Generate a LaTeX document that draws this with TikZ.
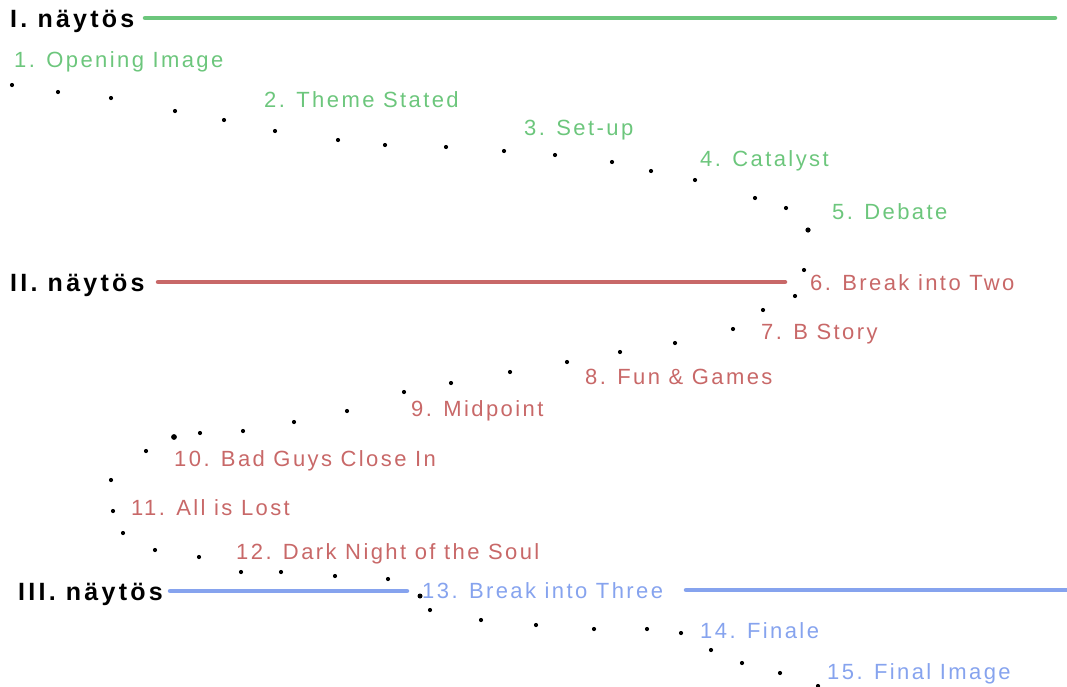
\documentclass[tikz,border=0pt]{standalone}
\usepackage{fontspec}
\newfontfamily\labfont[LetterSpace=11]{Liberation Sans}
\newfontfamily\hdrfont[LetterSpace=13]{Liberation Sans Bold}
\definecolor{actone}{RGB}{108,198,124}
\definecolor{acttwo}{RGB}{200,104,104}
\definecolor{actthree}{RGB}{134,163,238}
\tikzset{
  hdr/.style={anchor=base west, inner sep=0pt, font=\hdrfont\fontsize{25}{29}\selectfont, text=black},
  lab/.style={anchor=base west, inner sep=0pt, font=\labfont\fontsize{22}{26}\selectfont},
  actline/.style={line width=4.5pt, line cap=round},
  dot/.style={fill=black},
}
\begin{document}
\begin{tikzpicture}[x=1pt,y=-1pt]
\useasboundingbox (0,0) rectangle (1067,686);
% act headers
\node[hdr] (h1) at (10,27.5) {I. näytös};
\node[hdr] (h2) at (10,291) {II. näytös};
\node[hdr] (h3) at (18,600) {III. näytös};
% act lines
\coordinate (g1) at (145,18); \coordinate (g2) at (1055,18);
\coordinate (r1) at (158,282); \coordinate (r2) at (785,282);
\coordinate (b1) at (170,591); \coordinate (b2) at (407,591);
\coordinate (b3) at (686,590); \coordinate (b4) at (1067,590);
\draw[actline, draw=actone] (g1) -- (g2);
\draw[actline, draw=acttwo] (r1) -- (r2);
\draw[actline, draw=actthree] (b1) -- (b2);
\draw[actline, draw=actthree] (b3) -- (b4);
% beat labels
\node[lab, text=actone] (l1) at (14,67) {1. Opening Image};
\node[lab, text=actone] (l2) at (264,107) {2. Theme Stated};
\node[lab, text=actone] (l3) at (524,135) {3. Set-up};
\node[lab, text=actone] (l4) at (700,166) {4. Catalyst};
\node[lab, text=actone] (l5) at (832,219) {5. Debate};
\node[lab, text=acttwo] (l6) at (810,290) {6. Break into Two};
\node[lab, text=acttwo] (l7) at (761,339) {7. B Story};
\node[lab, text=acttwo] (l8) at (585,384) {8. Fun \& Games};
\node[lab, text=acttwo] (l9) at (411,416) {9. Midpoint};
\node[lab, text=acttwo] (l10) at (174,466) {10. Bad Guys Close In};
\node[lab, text=acttwo] (l11) at (131,515) {11. All is Lost};
\node[lab, text=acttwo] (l12) at (236,559) {12. Dark Night of the Soul};
\node[lab, text=actthree] (l13) at (422,598) {13. Break into Three};
\node[lab, text=actthree] (l14) at (700,638) {14. Finale};
\node[lab, text=actthree] (l15) at (827,679) {15. Final Image};
% dotted path
\foreach \p in {(12,85),(58,92),(111,98),(175,111),(224,120),(275,131),(338,140),(385,145),
  (446,147),(504,151),(555,155),(612,162),(651,171),(695,180),(755,198),(786,208),
  (804,270),(795,296),(763,310),(733,329),(675,343),(620,352),(567,362),(510,372),
  (451,383),(404,392),(347,411),(294,422),(243,431),(200,433),(146,451),(111,480),
  (113,511),(123,533),(155,550),(199,557),(241,572),(281,572),(335,576),(388,579),
  (430,610),(481,620),(536,625),(594,629),(647,629),(681,633),(711,650),(742,663),
  (780,673),(818,686)}
  \fill[dot] \p circle (2.1);
\fill[dot] (808,230) circle (2.6);
\fill[dot] (174,437) circle (2.9);
\fill[dot] (420,596) circle (2.5);
\end{tikzpicture}
\end{document}
